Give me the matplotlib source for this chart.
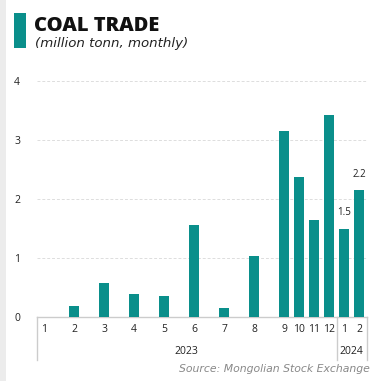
import matplotlib
matplotlib.use("Agg")
import matplotlib.pyplot as plt
from matplotlib.patches import Rectangle
from matplotlib.lines import Line2D

# Data
month_labels = ["1", "2", "3", "4", "5", "6", "7", "8", "9", "10", "11", "12", "1", "2"]
values = [0.0, 0.19, 0.58, 0.39, 0.36, 1.56, 0.15, 1.03, 3.15, 2.37, 1.64, 3.42, 1.50, 2.15]
positions = [0, 2, 4, 6, 8, 10, 12, 14, 16, 17, 18, 19, 20, 21]
annotations = {12: "1.5", 13: "2.2"}
years = ["2023", "2024"]
yticks = [0, 1, 2, 3, 4]

TEAL = "#0a8f8b"
font = "Open Sans"
wfont = "DejaVu Sans"

fig = plt.figure(figsize=(3.83, 3.81), dpi=100)
fig.patch.set_facecolor("white")

# left gray strip
fig.add_artist(Rectangle((0, 0), 6 / 383, 1, transform=fig.transFigure,
                         facecolor="#ececec", edgecolor="none"))

ax = fig.add_axes([36.5 / 383, 64 / 381, 330 / 383, 236 / 381])
ax.bar(positions, values, width=0.68, color=TEAL, zorder=3)
ax.set_xlim(-0.5, 21.5)
ax.set_ylim(0, 4)

for i, txt in annotations.items():
    ax.text(positions[i], values[i] + 0.18, txt, ha="center", va="bottom",
            fontsize=7, family=font, color="#222222")

ax.set_yticks(yticks)
ax.set_yticklabels([str(v) for v in yticks], family=font, fontsize=7.5, color="#222222")
ax.set_xticks(positions)
ax.set_xticklabels(month_labels, family=font, fontsize=7.5, color="#222222")
ax.tick_params(axis="x", length=0, pad=5)
for lbl in ax.get_yticklabels():
    lbl.set_horizontalalignment("center")
ax.tick_params(axis="y", length=0, pad=14)

for y in yticks[1:]:
    ax.axhline(y, color="#dddddd", lw=0.7, ls=(0, (3, 2)), zorder=1, clip_on=False)

for s in ["top", "right", "left"]:
    ax.spines[s].set_visible(False)
ax.spines["bottom"].set_color("#cccccc")
ax.spines["bottom"].set_linewidth(1)

# group separators
trans = ax.get_xaxis_transform()
sep_x = [-0.5, 19.5, 21.5]
for x in sep_x:
    ax.add_line(Line2D([x, x], [0, -43 / 236], transform=trans, color="#cccccc",
                       lw=1, clip_on=False))
ax.text((-0.5 + 19.5) / 2, -35 / 236, years[0], transform=trans, ha="center", va="center",
        family=font, fontsize=7.5, color="#222222")
ax.text((19.5 + 21.5) / 2, -35 / 236, years[1], transform=trans, ha="center", va="center",
        family=font, fontsize=7.5, color="#222222")

# title
fig.add_artist(Rectangle((14 / 383, 1 - 48 / 381), 12 / 383, 35 / 381,
                         transform=fig.transFigure, facecolor=TEAL, edgecolor="none"))
fig.text(34 / 383, 1 - 26 / 381, "COAL TRADE", family=font, fontweight="heavy",
         fontsize=14.5, color="#111111", va="center", ha="left")
fig.text(35 / 383, 1 - 44 / 381, "(million tonn, monthly)", family=wfont, style="italic",
         fontsize=9.6, color="#222222", va="center", ha="left")

fig.text(370 / 383, 1 - 369 / 381, "Source: Mongolian Stock Exchange", family=wfont,
         style="italic", fontsize=7.8, color="#888888", va="center", ha="right")

fig.savefig("out.png", dpi=100)
